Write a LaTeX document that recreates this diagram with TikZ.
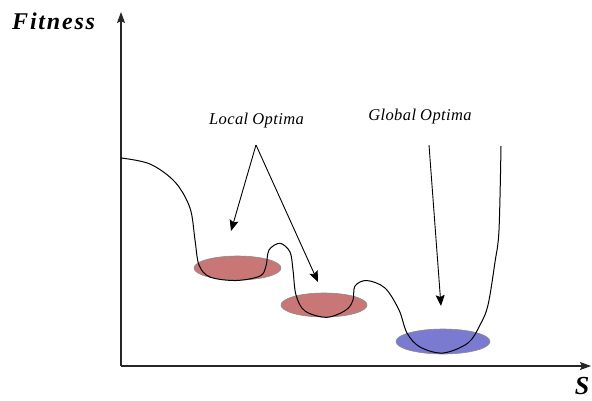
\documentclass[tikz,border=0pt]{standalone}
\usepackage{fontspec}
\setmainfont{Liberation Serif}
\usetikzlibrary{arrows.meta}
\definecolor{redopt}{RGB}{200,118,118}
\definecolor{blueopt}{RGB}{122,122,208}
\tikzset{
  axis/.style={line width=1.1pt, draw=black!85, -{Stealth[length=11pt,width=8pt,inset=2pt]}},
  ptr/.style={line width=0.9pt, -{Stealth[length=11pt,width=9pt,inset=2pt]}},
  optred/.style={fill=redopt, draw=black!45, line width=0.6pt},
  optblue/.style={fill=blueopt, draw=black!45, line width=0.6pt},
  lbl/.style={font=\fontsize{16.5}{16.5}\selectfont\itshape, inner sep=0pt},
  axlbl/.style={font=\fontsize{24}{24}\selectfont\bfseries\itshape, inner sep=0pt},
}
\begin{document}
\begin{tikzpicture}[x=1pt,y=-1pt]
\useasboundingbox (0,0) rectangle (592,400);
% optima regions
\draw[optred] (237.5,268) ellipse [x radius=43.5, y radius=12];
\draw[optred] (324,305) ellipse [x radius=43, y radius=12];
\draw[optblue] (443,341.5) ellipse [x radius=47, y radius=12.5];
% axes
\coordinate (o) at (121,366);
\coordinate (ytip) at (121,12);
\coordinate (xtip) at (591,366);
\draw[axis] (o) -- (ytip);
\draw[axis] (o) -- (xtip);
\node[axlbl, anchor=base west] (fit) at (12,29) {F\kern1.8pt i\kern1.8pt t\kern1.8pt n\kern1.8pt e\kern1.8pt s\kern1.8pt s};
\node[axlbl, font=\fontsize{26}{26}\selectfont\bfseries\itshape, anchor=base] (s) at (582,394) {S};
% fitness landscape
\draw[line width=1pt, black] plot[smooth, tension=0.55] coordinates {
 (121,158) (150,164) (175,182) (190,208) (195,240) (199,265) (210,277) (236,280.5)
 (260,276) (266,266) (269,250) (280,243.3) (290,252) (293,270) (296,295) (305,311)
 (326.7,317.3) (346,310) (353,300) (355,286) (366.7,280.5) (385,288) (399,310)
 (407,333) (420,347) (443,353) (468,343) (480,325) (488,305) (495,262) (499,230) (501,146)};
% labels and pointers
\node[lbl, anchor=base] (loc) at (256.5,124) {L\kern0.4pt o\kern0.4pt c\kern0.4pt a\kern0.4pt l O\kern0.4pt p\kern0.4pt t\kern0.4pt i\kern0.4pt m\kern0.4pt a};
\node[lbl, anchor=base] (glob) at (420,120) {G\kern0.4pt l\kern0.4pt o\kern0.4pt b\kern0.4pt a\kern0.4pt l O\kern0.4pt p\kern0.4pt t\kern0.4pt i\kern0.4pt m\kern0.4pt a};
\coordinate (apex) at (256,145);
\coordinate (gstart) at (429,145);
\coordinate (l1) at (231,231);
\coordinate (l2) at (318,282);
\coordinate (g1) at (441,306);
\draw[ptr] (apex) -- (l1);
\draw[ptr] (apex) -- (l2);
\draw[ptr] (gstart) -- (g1);
\end{tikzpicture}
\end{document}
